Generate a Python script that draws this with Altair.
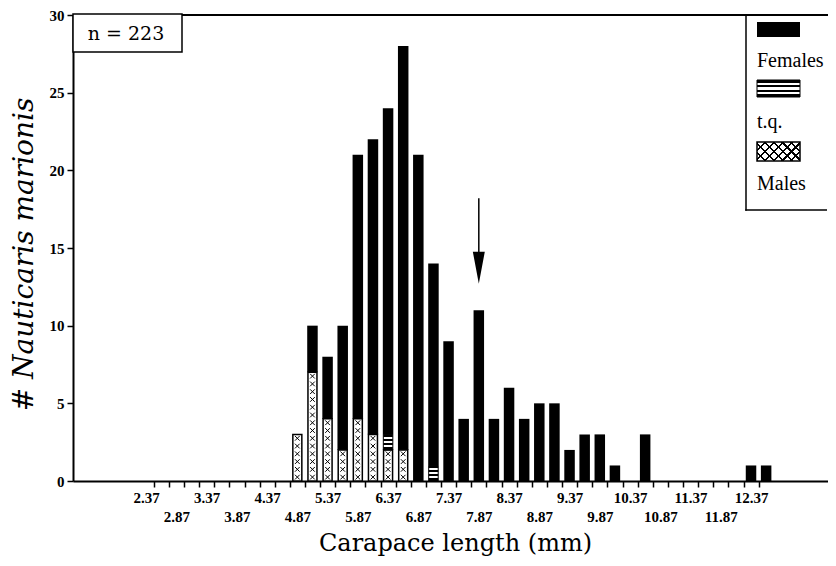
import altair as alt
import pandas as pd

# ---------------- data ----------------
bin_centres = [4.87, 5.12, 5.37, 5.62, 5.87, 6.12, 6.37, 6.62, 6.87, 7.12,
               7.37, 7.62, 7.87, 8.12, 8.37, 8.62, 8.87, 9.12, 9.37, 9.62,
               9.87, 10.12, 10.37, 10.62, 10.87, 11.12, 11.37, 11.62, 11.87,
               12.12, 12.37, 12.62]
totals = [3, 10, 8, 10, 21, 22, 24, 28, 21, 14,
          9, 4, 11, 4, 6, 4, 5, 5, 2, 3,
          3, 1, 0, 3, 0, 0, 0, 0, 0,
          0, 1, 1]
males = [3, 7, 4, 2, 4, 3, 2, 2, 0, 0,
         0, 0, 0, 0, 0, 0, 0, 0, 0, 0,
         0, 0, 0, 0, 0, 0, 0, 0, 0,
         0, 0, 0]
tq = [0, 0, 0, 0, 0, 0, 1, 0, 0, 1,
      0, 0, 0, 0, 0, 0, 0, 0, 0, 0,
      0, 0, 0, 0, 0, 0, 0, 0, 0,
      0, 0, 0]
females = [t - m - q for t, m, q in zip(totals, males, tq)]

top_labels = ["2.37", "3.37", "4.37", "5.37", "6.37", "7.37", "8.37",
              "9.37", "10.37", "11.37", "12.37"]
bottom_labels = ["2.87", "3.87", "4.87", "5.87", "6.87", "7.87", "8.87",
                 "9.87", "10.87", "11.87"]
y_ticks = [0, 5, 10, 15, 20, 25, 30]
tick_values = [round(2.37 + 0.25 * k, 2) for k in range(41)]

n_label = "n = 223"
legend_labels = ["Females", "t.q.", "Males"]
x_title = "Carapace length (mm)"
y_title = "# Nauticaris marionis"

arrow_x = [7.87]
arrow_top = [18.2]
arrow_neck = [14.6]
arrow_head = [13.73]

# ---------------- tables ----------------
df = pd.DataFrame({"c": bin_centres, "males": males, "tq": tq, "females": females})
df["m0"] = 0
df["m1"] = df["males"]
df["q0"] = df["males"]
df["q1"] = df["males"] + df["tq"]
df["f0"] = df["q1"]
df["f1"] = df["q1"] + df["females"]
fem = df[df["females"] > 0]
mal = df[df["males"] > 0]
tqd = df[df["tq"] > 0]
hatch = pd.DataFrame([{"c": c, "hy": (k + 0.5) / 2}
                      for c, m in zip(bin_centres, males) for k in range(2 * m)])
arrow_df = pd.DataFrame({"c": arrow_x, "top": arrow_top, "neck": arrow_neck, "head": arrow_head})
one = pd.DataFrame({"a": [0]})

# ---------------- scales / axes ----------------
W = 755
xs = alt.Scale(domain=[1.244, 13.56], nice=False, zero=False)
ys = alt.Scale(domain=[0, 30], nice=False)

label_expr = (f"indexof({top_labels}, datum.label) >= 0 ? datum.label : "
              f"(indexof({bottom_labels}, datum.label) >= 0 ? ['', datum.label] : '')")

x_axis = alt.Axis(title=x_title, values=tick_values, format=".2f", labelExpr=label_expr,
                  tickOffset=7.66, labelOffset=-7.66, labelOverlap=False, labelFlush=False,
                  tickSize=6, labelPadding=3, labelLineHeight=19, labelBaseline="top",
                  labelFont="Liberation Serif", labelFontWeight="bold", labelFontSize=15,
                  labelColor="black",
                  titleFont="DejaVu Serif", titleFontSize=24, titleFontWeight="normal",
                  titleColor="black", titleX=382, titleY=69, titleBaseline="alphabetic",
                  titleAlign="center", domainWidth=2, domainColor="black",
                  tickWidth=1.5, tickColor="black", grid=False)

y_axis = alt.Axis(title=y_title, values=y_ticks, tickSize=6, labelPadding=3,
                  labelFont="Liberation Serif", labelFontWeight="bold", labelFontSize=15,
                  labelColor="black",
                  titleFont="DejaVu Serif", titleFontStyle="italic", titleFontSize=28,
                  titleFontWeight="normal", titleColor="black",
                  titleX=-49, titleY=239, titleAngle=270, titleAlign="center",
                  titleBaseline="middle", domainWidth=2, domainColor="black",
                  tickWidth=1.5, tickColor="black", grid=False)

X = alt.X("c:Q", scale=xs, axis=x_axis)

# gradients
tq_stops = [(0, "black"), (0.18, "black"), (0.18, "white"), (0.32, "white"),
            (0.32, "black"), (0.43, "black"), (0.43, "white"), (0.57, "white"),
            (0.57, "black"), (0.68, "black"), (0.68, "white"), (0.82, "white"),
            (0.82, "black"), (1, "black")]
tq_grad = {"gradient": "linear", "x1": 0, "y1": 0, "x2": 0, "y2": 1,
           "stops": [{"offset": o, "color": c} for o, c in tq_stops]}


def diag_stops(n=7, w=0.018):
    s = []
    for i in range(n + 1):
        c = i / n
        lo, hi = max(0.0, c - w), min(1.0, c + w)
        s.append({"offset": lo, "color": "rgba(0,0,0,0)"})
        s.append({"offset": lo, "color": "black"})
        s.append({"offset": hi, "color": "black"})
        s.append({"offset": hi, "color": "rgba(0,0,0,0)"})
    return s


hatch_a = {"gradient": "linear", "x1": 0, "y1": 0, "x2": 1.2, "y2": 0.53, "stops": diag_stops()}
hatch_b = {"gradient": "linear", "x1": 0, "y1": 1, "x2": 1.2, "y2": 0.47, "stops": diag_stops()}

# ---------------- layers ----------------
frame = alt.Chart(pd.DataFrame({"y": [30]})).mark_rule(color="black", strokeWidth=2).encode(
    y=alt.Y("y:Q", scale=ys, axis=y_axis))

female_bars = alt.Chart(fem).mark_bar(color="black", size=10.5).encode(
    x=X, y=alt.Y("f0:Q", scale=ys, axis=y_axis), y2="f1:Q")

male_bars = alt.Chart(mal).mark_bar(fill="white", stroke="black", strokeWidth=1.5, size=9).encode(
    x=X, y=alt.Y("m0:Q", scale=ys, axis=y_axis), y2="m1:Q")

hatch_pts = alt.Chart(hatch).mark_point(shape="M-1,-1L1,1M1,-1L-1,1", size=22, stroke="black",
                                        strokeWidth=1, filled=False, opacity=1).encode(
    x=X, y=alt.Y("hy:Q", scale=ys, axis=y_axis))

tq_bars = alt.Chart(tqd).mark_bar(fill=tq_grad, stroke="black", strokeWidth=1, size=9.5).encode(
    x=X, y=alt.Y("q0:Q", scale=ys, axis=y_axis), y2="q1:Q")

arrow_line = alt.Chart(arrow_df).mark_rule(color="black", strokeWidth=1.5).encode(
    x=X, y=alt.Y("top:Q", scale=ys, axis=y_axis), y2="neck:Q")
arrow_tip = alt.Chart(arrow_df).mark_point(shape="M-0.375,-1L0.375,-1L0,1Z", size=1024,
                                           filled=True, color="black", opacity=1).encode(
    x=X, y=alt.Y("head:Q", scale=ys, axis=y_axis))

n_box = alt.Chart(one).mark_rect(fill="white", stroke="black", strokeWidth=1.5).encode(
    x=alt.value(0), x2=alt.value(109), y=alt.value(-1), y2=alt.value(37))
n_text = alt.Chart(one).mark_text(text=n_label, font="DejaVu Serif", fontSize=19, align="center",
                                  baseline="alphabetic", color="black").encode(
    x=alt.value(53), y=alt.value(25))

# legend box: thin filled rects for the left and bottom borders
leg_left = alt.Chart(one).mark_rect(fill="black").encode(
    x=alt.value(672.25), x2=alt.value(673.75), y=alt.value(-1), y2=alt.value(195.75))
leg_bottom = alt.Chart(one).mark_rect(fill="black").encode(
    x=alt.value(672.25), x2=alt.value(W - 1), y=alt.value(194.25), y2=alt.value(195.75))
sw_f = alt.Chart(one).mark_rect(fill="black").encode(
    x=alt.value(684), x2=alt.value(727), y=alt.value(7), y2=alt.value(22))
sw_q = alt.Chart(one).mark_rect(fill=tq_grad, stroke="black", strokeWidth=1).encode(
    x=alt.value(684), x2=alt.value(727), y=alt.value(65), y2=alt.value(82))
sw_m0 = alt.Chart(one).mark_rect(fill="white", stroke="black", strokeWidth=1.5).encode(
    x=alt.value(684), x2=alt.value(727), y=alt.value(127), y2=alt.value(146))
sw_m1 = alt.Chart(one).mark_rect(fill=hatch_a).encode(
    x=alt.value(684), x2=alt.value(727), y=alt.value(127), y2=alt.value(146))
sw_m2 = alt.Chart(one).mark_rect(fill=hatch_b).encode(
    x=alt.value(684), x2=alt.value(727), y=alt.value(127), y2=alt.value(146))

leg_texts = []
for lab, ty in zip(legend_labels, [52, 113, 175]):
    leg_texts.append(alt.Chart(one).mark_text(text=lab, font="Liberation Serif", fontSize=20,
                                              align="left", baseline="alphabetic",
                                              color="black").encode(
        x=alt.value(684), y=alt.value(ty)))

chart = alt.layer(frame, female_bars, male_bars, hatch_pts, tq_bars, arrow_line, arrow_tip,
                  n_box, n_text, leg_left, leg_bottom, sw_f, sw_q, sw_m0, sw_m1, sw_m2,
                  *leg_texts).properties(
    width=W, height=466,
    autosize=alt.AutoSizeParams(type="none"),
    padding={"left": 65, "top": 7, "right": 0, "bottom": 77},
).configure(background="white").configure_view(stroke=None, strokeWidth=0)

chart.save("out.html", embed_options={"renderer": "svg", "actions": False})
